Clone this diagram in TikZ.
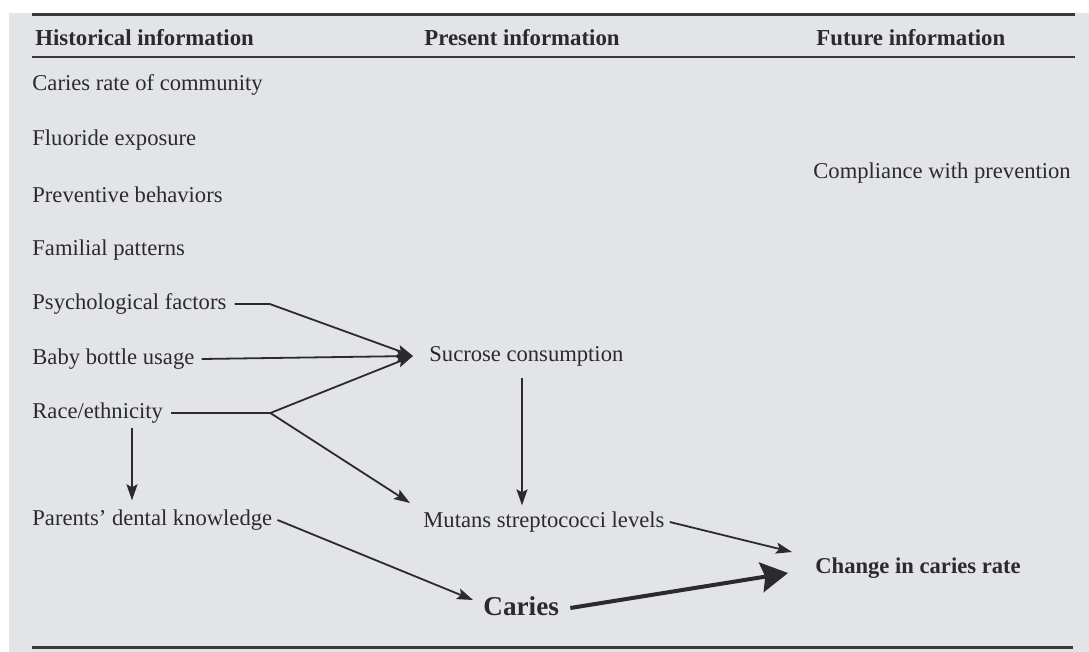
\documentclass[tikz,border=0pt]{standalone}
\usepackage{fontspec}
\setmainfont{Liberation Serif}
\usepackage{xcolor}
\usetikzlibrary{arrows.meta,positioning,calc}
\definecolor{ink}{HTML}{2B2B2B}
\definecolor{paper}{HTML}{E2E4E7}
\definecolor{rulegray}{HTML}{3A3A3A}
\tikzset{
  txt/.style={anchor=west, inner sep=0pt, text=ink, font=\fontsize{11.3}{13}\selectfont},
  head/.style={txt, font=\fontsize{11.4}{13}\selectfont\bfseries},
  key/.style={txt, font=\fontsize{11.3}{13}\selectfont\bfseries},
  bigkey/.style={txt, font=\fontsize{13.6}{16}\selectfont\bfseries},
  rule/.style={draw=rulegray, line width=1.5pt},
  line/.style={draw=ink, line width=0.9pt},
  arrow/.style={line, -{Stealth[length=8pt,width=5.5pt,inset=1.5pt]}},
  bigarrow/.style={draw=ink, line width=2pt, -{Stealth[length=13.5pt,width=15pt,inset=2pt]}}
}
\begin{document}
\begin{tikzpicture}[x=0.5pt,y=-0.5pt]
\useasboundingbox (0,0) rectangle (1089,652);
\fill[white] (0,0) rectangle (1089,652);
\fill[paper] (9,13) rectangle (1089,652);
% rules
\draw[rule] (32,15) -- (1075,15);
\draw[rule, line width=1.3pt] (32,57) -- (1075,57);
\draw[rule] (32,648) -- (1073,648);
% headings
\node[head] (hhist) at (35,38) {Historical information};
\node[head] (hpres) at (424,38) {Present information};
\node[head] (hfut) at (816,38) {Future information};
% historical column
\node[txt] (community) at (32,85) {Caries rate of community};
\node[txt] (fluoride) at (32,140) {Fluoride exposure};
\node[txt] (prevent) at (32,195) {Preventive behaviors};
\node[txt] (familial) at (32,250) {Familial patterns};
\node[txt] (psych) at (32,304) {Psychological factors};
\node[txt] (bottle) at (32,359) {Baby bottle usage};
\node[txt] (race) at (32,413) {Race/ethnicity};
\node[txt] (parents) at (32,520) {Parents' dental knowledge};
% present and future
\node[txt] (sucrose) at (429,356) {Sucrose consumption};
\node[txt] (mutans) at (423,522) {Mutans streptococci levels};
\node[bigkey] (caries) at (483,606) {Caries};
\node[txt] (compliance) at (813,173) {Compliance with prevention};
\node[key] (change) at (815,568) {Change in caries rate};
% connectors
\coordinate (stip) at ([xshift=-8pt]sucrose.west);
\draw[arrow] ([xshift=4pt]psych.east) -- ++(35,0) -- (stip);
\draw[arrow] ([xshift=3.5pt]bottle.east) -- (stip);
\draw[line] ([xshift=4pt]race.east) -- ++(99,0) coordinate (rjoin);
\draw[arrow] (rjoin) -- (stip);
\draw[arrow] (rjoin) -- ([xshift=-6.5pt,yshift=9.5pt]mutans.west);
\coordinate (rdown) at ([xshift=50pt,yshift=-2pt]race.south west);
\draw[arrow] (rdown) -- ([yshift=4.5pt]rdown |- parents.north);
\coordinate (sdown) at ([xshift=46.5pt,yshift=-6pt]sucrose.south west);
\draw[arrow] (sdown) -- ([yshift=3pt]sdown |- mutans.north);
\draw[arrow] ([xshift=2.5pt]parents.east) -- ([xshift=-5pt,yshift=3pt]caries.west);
\draw[arrow] ([xshift=2.5pt]mutans.east) -- ([xshift=-11.5pt,yshift=8pt]change.west);
\draw[bigarrow] ([xshift=5.5pt,yshift=-1pt]caries.east) -- ([xshift=-13.5pt,yshift=-2.5pt]change.west);
\end{tikzpicture}
\end{document}
